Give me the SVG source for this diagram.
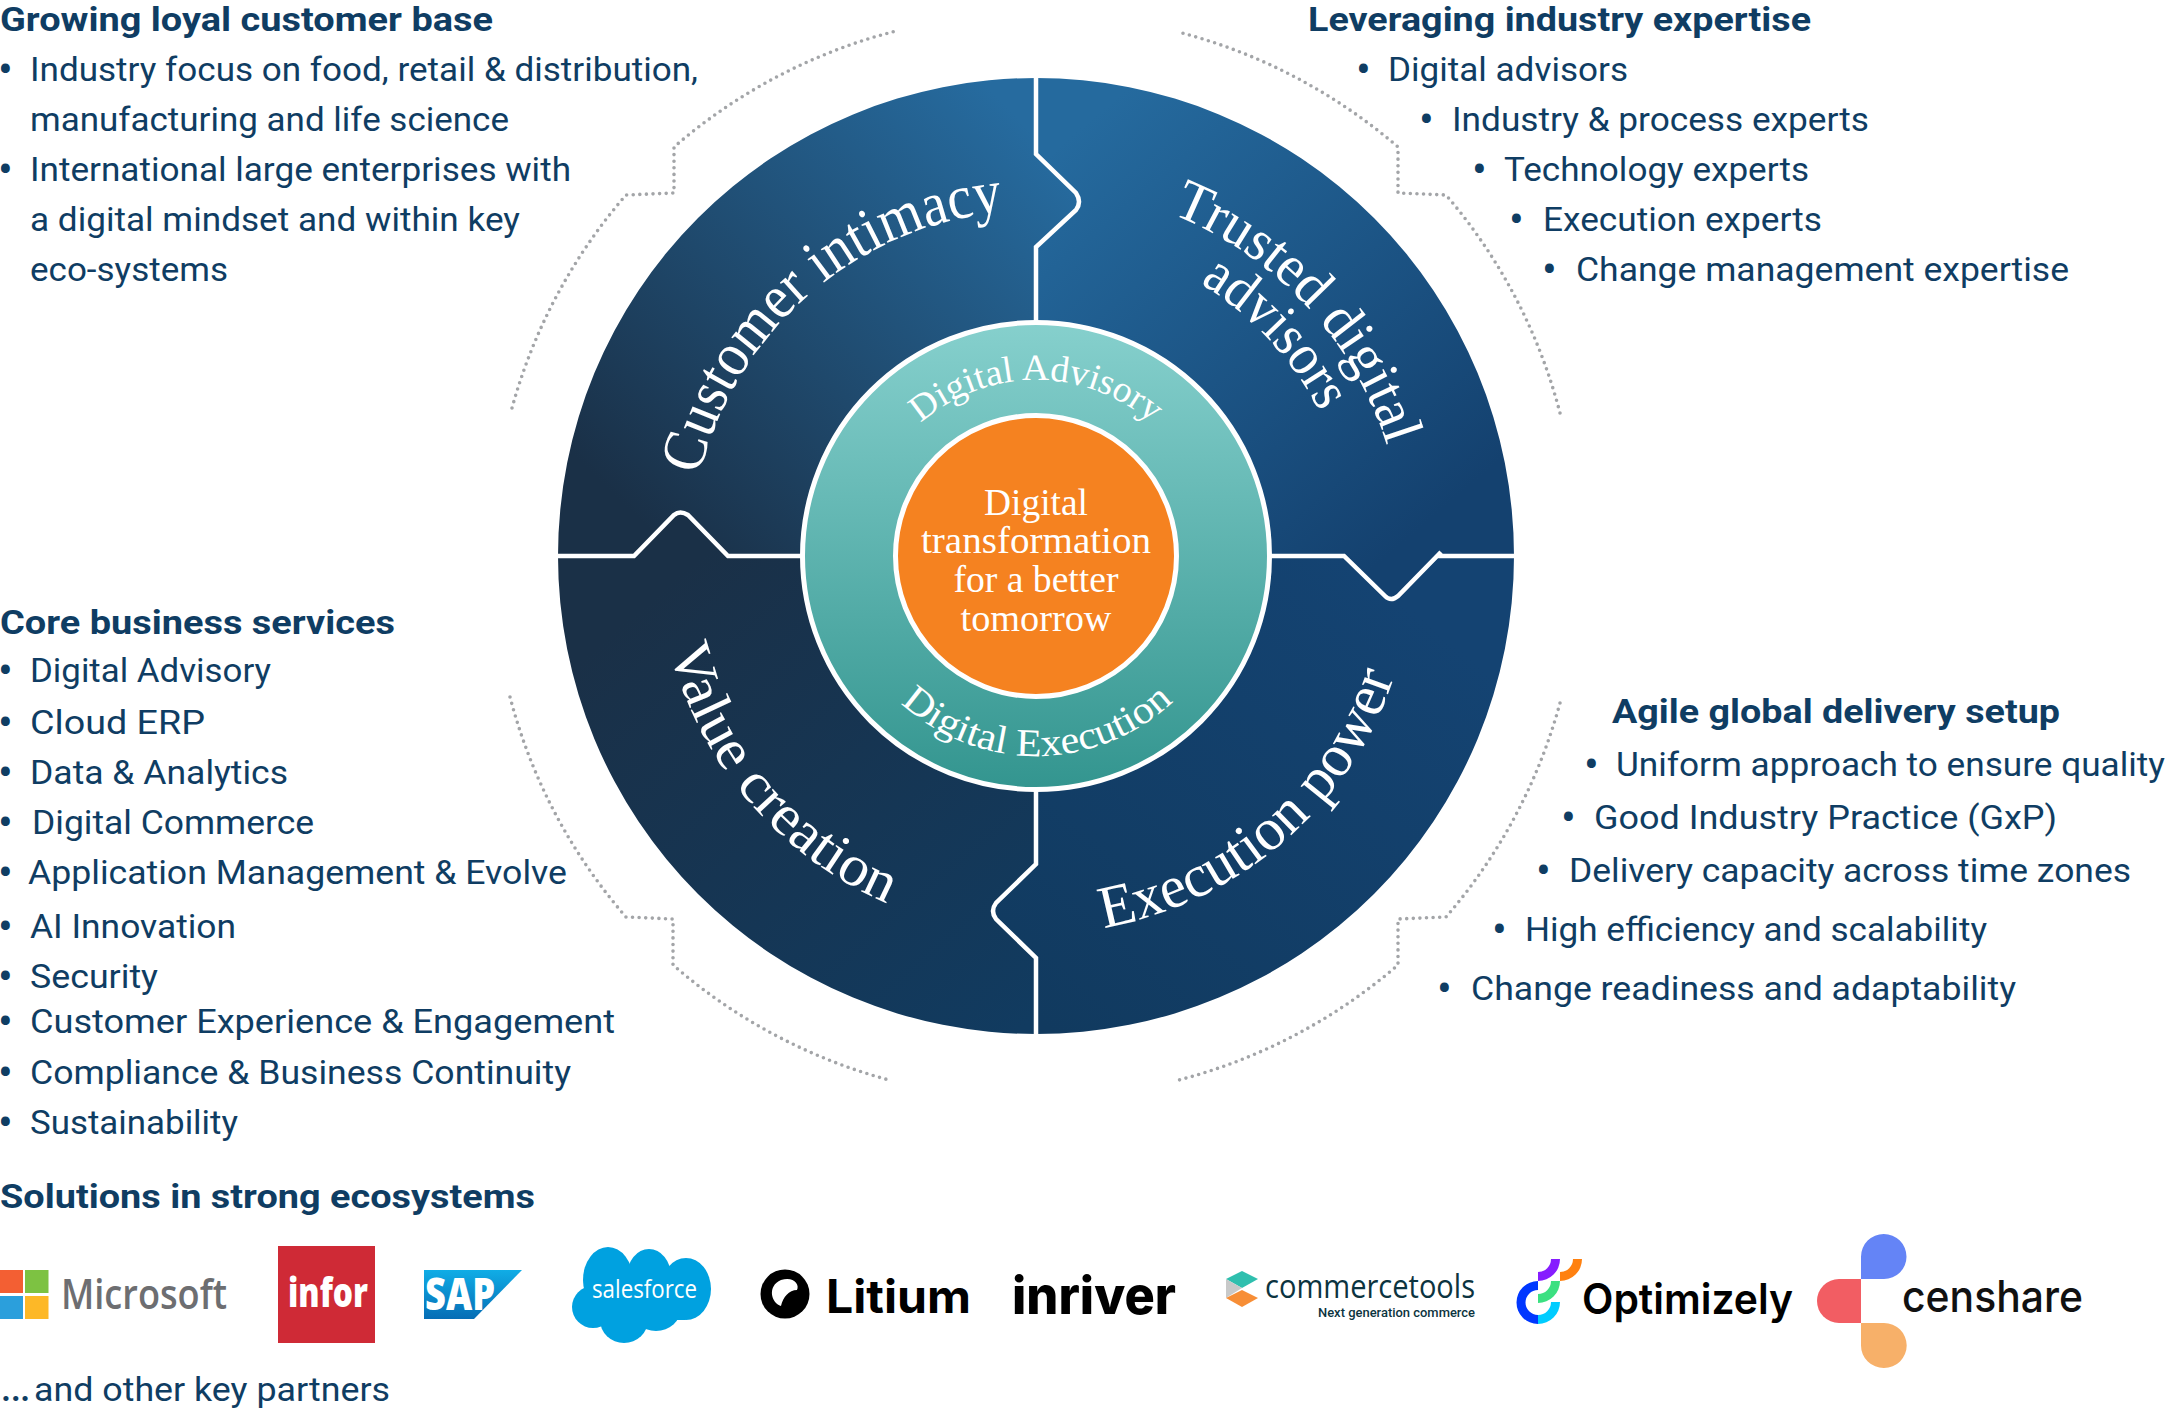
<svg xmlns="http://www.w3.org/2000/svg" width="2168" height="1422" viewBox="0 0 2168 1422">
  <style>
    text { font-family: Roboto, "Liberation Sans", sans-serif; }
    .body { font-size: 34px; fill: #0f3d63; }
    .head { font-size: 34px; font-weight: 700; fill: #0f3d63; }
    .dot { font-size: 44px; fill: #0f3d63; }
    .serif { font-family: "Liberation Serif", "DejaVu Serif", serif; fill: #fff; }
    .core { font-size: 38px; text-anchor: middle; }
    .seam { fill: none; stroke: #fff; stroke-width: 4.5; }
    .dots { fill: none; stroke: #a3a5a8; stroke-width: 3.6; stroke-linecap: round; stroke-dasharray: 0 6.6; }
    .ring { stroke: #fff; stroke-width: 5; }
  </style>
  <defs>
    <linearGradient id="gTL" gradientUnits="userSpaceOnUse" x1="640" y1="520" x2="1030" y2="130"><stop offset="0" stop-color="#1a3047"/><stop offset="1" stop-color="#266b9f"/></linearGradient>
    <linearGradient id="gTR" gradientUnits="userSpaceOnUse" x1="1090" y1="120" x2="1430" y2="520"><stop offset="0" stop-color="#256a9e"/><stop offset="1" stop-color="#14416f"/></linearGradient>
    <linearGradient id="gBL" gradientUnits="userSpaceOnUse" x1="650" y1="600" x2="1020" y2="1030"><stop offset="0" stop-color="#1a3047"/><stop offset="1" stop-color="#113b60"/></linearGradient>
    <linearGradient id="gBR" gradientUnits="userSpaceOnUse" x1="1400" y1="600" x2="1050" y2="1030"><stop offset="0" stop-color="#144372"/><stop offset="1" stop-color="#113a5f"/></linearGradient>
    <linearGradient id="gRing" x1="0" y1="0" x2="0" y2="1"><stop offset="0" stop-color="#86d0cd"/><stop offset="1" stop-color="#33958f"/></linearGradient>
    <linearGradient id="gSap" x1="0" y1="0" x2="0" y2="1"><stop offset="0" stop-color="#10ade6"/><stop offset="1" stop-color="#066db5"/></linearGradient>
    <path id="arcCustomer" d="M699.6,475.3 A346 346 0 0 1 1002.8,211.6"/>
    <path id="arcTrusted" d="M1171.5,213.8 A368 368 0 0 1 1386.4,443.5"/>
    <path id="arcAdvisors" d="M1199.8,283.5 A318 318 0 0 1 1319.3,411.6"/>
    <path id="arcValue" d="M669.6,648.7 A378 378 0 0 0 887.1,903.4"/>
    <path id="arcExecution" d="M1103.6,928 A378 378 0 0 0 1394.3,676.6"/>
    <path id="arcAdvisory" d="M920.5,423.2 A176 176 0 0 1 1151.5,423.2"/>
    <path id="arcDelivery" d="M900.6,703.2 A200 200 0 0 0 1173.7,701.1"/>
  </defs>

  <rect width="2168" height="1422" fill="#fff"/>

  <!-- Four interlocking quadrants of the outer wheel -->
  <g id="customer-intimacy">
    <path fill="url(#gTL)" d="M1036,78 A478 478 0 0 0 558,556 H634 L674,515 Q680,510 688,515 L728,556 H1036 V247 L1076,210 Q1082,202 1076,193 L1036,154 Z"/>
    <text class="serif" font-size="62"><textPath href="#arcCustomer" textLength="429" lengthAdjust="spacingAndGlyphs">Customer intimacy</textPath></text>
  </g>
  <g id="trusted-digital-advisors">
    <path fill="url(#gTR)" d="M1036,78 V154 L1076,193 Q1082,202 1076,210 L1036,247 V556 H1344 L1385,596 Q1391,602 1398,596 L1440,556 H1514 A478 478 0 0 0 1036,78 Z"/>
    <text class="serif" font-size="58"><textPath href="#arcTrusted" textLength="327" lengthAdjust="spacingAndGlyphs">Trusted digital</textPath></text>
    <text class="serif" font-size="58"><textPath href="#arcAdvisors" textLength="178" lengthAdjust="spacingAndGlyphs">advisors</textPath></text>
  </g>
  <g id="value-creation">
    <path fill="url(#gBL)" d="M1036,1034 V958 L996,919 Q990,911 996,903 L1036,864 V556 H728 L688,515 Q680,510 674,515 L634,556 H558 A478 478 0 0 0 1036,1034 Z"/>
    <text class="serif" font-size="58"><textPath href="#arcValue" textLength="347" lengthAdjust="spacingAndGlyphs">Value creation</textPath></text>
  </g>
  <g id="execution-power">
    <path fill="url(#gBR)" d="M1514,556 H1440 L1398,596 Q1391,602 1385,596 L1344,556 H1036 V864 L996,903 Q990,911 996,919 L1036,958 V1034 A478 478 0 0 0 1514,556 Z"/>
    <text class="serif" font-size="60"><textPath href="#arcExecution" textLength="403" lengthAdjust="spacingAndGlyphs">Execution power</textPath></text>
  </g>

  <!-- Seams between quadrants and dotted brackets around the wheel -->
  <g id="connectors">
    <path class="seam" d="M1036,76 V154 L1076,193 Q1082,202 1076,210 L1036,247 V322"/>
    <path class="seam" d="M556,556 H634 L674,515 Q680,510 688,515 L728,556 H802"/>
    <path class="seam" d="M1271,556 H1344 L1385,596 Q1391,602 1398,596 L1441,552 M1438,556 H1516"/>
    <path class="seam" d="M1036,791 V864 L996,903 Q990,911 996,919 L1036,958 V1036"/>
    <path class="dots" d="M512,408 A546 546 0 0 1 626,195 L674,193 L674,147 A546 546 0 0 1 896,31"/>
    <path class="dots" d="M1560,413 A546 546 0 0 0 1446,195 L1398,193 L1398,147 A546 546 0 0 0 1182,33"/>
    <path class="dots" d="M510,697 A546 546 0 0 0 626,917 L673,919 L673,965 A546 546 0 0 0 889,1080"/>
    <path class="dots" d="M1560,703 A546 546 0 0 1 1446,917 L1398,919 L1398,965 A546 546 0 0 1 1175,1081"/>
  </g>

  <g id="delivery-ring">
    <circle class="ring" cx="1036" cy="556" r="233.5" fill="url(#gRing)"/>
    <text class="serif" font-size="37"><textPath href="#arcAdvisory" textLength="252" lengthAdjust="spacingAndGlyphs">Digital Advisory</textPath></text>
    <text class="serif" font-size="39"><textPath href="#arcDelivery" textLength="300" lengthAdjust="spacingAndGlyphs">Digital Execution</textPath></text>
  </g>

  <g id="core">
    <circle class="ring" cx="1036" cy="556" r="140.5" fill="#f58220"/>
    <text class="serif core" x="1036" y="515" textLength="104" lengthAdjust="spacingAndGlyphs">Digital</text>
    <text class="serif core" x="1036" y="553" textLength="230" lengthAdjust="spacingAndGlyphs">transformation</text>
    <text class="serif core" x="1036" y="592" textLength="165" lengthAdjust="spacingAndGlyphs">for a better</text>
    <text class="serif core" x="1036" y="631" textLength="151" lengthAdjust="spacingAndGlyphs">tomorrow</text>
  </g>

  <!-- Text blocks -->
  <g id="customer-base">
    <text class="head" x="0" y="31" textLength="493" lengthAdjust="spacingAndGlyphs">Growing loyal customer base</text>
    <text class="dot" x="-2" y="85">•</text>
    <text class="body" x="30" y="81" textLength="668" lengthAdjust="spacingAndGlyphs">Industry focus on food, retail &amp; distribution,</text>
    <text class="body" x="30" y="131" textLength="479" lengthAdjust="spacingAndGlyphs">manufacturing and life science</text>
    <text class="dot" x="-2" y="185">•</text>
    <text class="body" x="30" y="181" textLength="541" lengthAdjust="spacingAndGlyphs">International large enterprises with</text>
    <text class="body" x="30" y="231" textLength="490" lengthAdjust="spacingAndGlyphs">a digital mindset and within key</text>
    <text class="body" x="30" y="281" textLength="198" lengthAdjust="spacingAndGlyphs">eco-systems</text>
  </g>

  <g id="industry-expertise">
    <text class="head" x="1308" y="31" textLength="503" lengthAdjust="spacingAndGlyphs">Leveraging industry expertise</text>
    <text class="dot" x="1356" y="85">•</text>
    <text class="body" x="1388" y="81" textLength="240" lengthAdjust="spacingAndGlyphs">Digital advisors</text>
    <text class="dot" x="1419" y="135">•</text>
    <text class="body" x="1452" y="131" textLength="417" lengthAdjust="spacingAndGlyphs">Industry &amp; process experts</text>
    <text class="dot" x="1472" y="185">•</text>
    <text class="body" x="1504" y="181" textLength="305" lengthAdjust="spacingAndGlyphs">Technology experts</text>
    <text class="dot" x="1509" y="235">•</text>
    <text class="body" x="1543" y="231" textLength="279" lengthAdjust="spacingAndGlyphs">Execution experts</text>
    <text class="dot" x="1542" y="285">•</text>
    <text class="body" x="1576" y="281" textLength="493" lengthAdjust="spacingAndGlyphs">Change management expertise</text>
  </g>

  <g id="core-services">
    <text class="head" x="0" y="634" textLength="395" lengthAdjust="spacingAndGlyphs">Core business services</text>
    <text class="dot" x="-2" y="686">•</text>
    <text class="body" x="30" y="682" textLength="241" lengthAdjust="spacingAndGlyphs">Digital Advisory</text>
    <text class="dot" x="-2" y="738">•</text>
    <text class="body" x="30" y="734" textLength="175" lengthAdjust="spacingAndGlyphs">Cloud ERP</text>
    <text class="dot" x="-2" y="788">•</text>
    <text class="body" x="30" y="784" textLength="258" lengthAdjust="spacingAndGlyphs">Data &amp; Analytics</text>
    <text class="dot" x="-2" y="838">•</text>
    <text class="body" x="32" y="834" textLength="282" lengthAdjust="spacingAndGlyphs">Digital Commerce</text>
    <text class="dot" x="-2" y="888">•</text>
    <text class="body" x="28" y="884" textLength="539" lengthAdjust="spacingAndGlyphs">Application Management &amp; Evolve</text>
    <text class="dot" x="-2" y="942">•</text>
    <text class="body" x="30" y="938" textLength="206" lengthAdjust="spacingAndGlyphs">AI Innovation</text>
    <text class="dot" x="-2" y="992">•</text>
    <text class="body" x="30" y="988" textLength="128" lengthAdjust="spacingAndGlyphs">Security</text>
    <text class="dot" x="-2" y="1037">•</text>
    <text class="body" x="30" y="1033" textLength="585" lengthAdjust="spacingAndGlyphs">Customer Experience &amp; Engagement</text>
    <text class="dot" x="-2" y="1088">•</text>
    <text class="body" x="30" y="1084" textLength="541" lengthAdjust="spacingAndGlyphs">Compliance &amp; Business Continuity</text>
    <text class="dot" x="-2" y="1138">•</text>
    <text class="body" x="30" y="1134" textLength="208" lengthAdjust="spacingAndGlyphs">Sustainability</text>
  </g>

  <g id="delivery-setup">
    <text class="head" x="1612" y="723" textLength="448" lengthAdjust="spacingAndGlyphs">Agile global delivery setup</text>
    <text class="dot" x="1584" y="780">•</text>
    <text class="body" x="1616" y="776" textLength="549" lengthAdjust="spacingAndGlyphs">Uniform approach to ensure quality</text>
    <text class="dot" x="1561" y="833">•</text>
    <text class="body" x="1594" y="829" textLength="463" lengthAdjust="spacingAndGlyphs">Good Industry Practice (GxP)</text>
    <text class="dot" x="1536" y="886">•</text>
    <text class="body" x="1569" y="882" textLength="562" lengthAdjust="spacingAndGlyphs">Delivery capacity across time zones</text>
    <text class="dot" x="1492" y="945">•</text>
    <text class="body" x="1525" y="941" textLength="462" lengthAdjust="spacingAndGlyphs">High efficiency and scalability</text>
    <text class="dot" x="1437" y="1004">•</text>
    <text class="body" x="1471" y="1000" textLength="545" lengthAdjust="spacingAndGlyphs">Change readiness and adaptability</text>
  </g>

  <g id="ecosystem-title">
    <text class="head" x="0" y="1208" textLength="535" lengthAdjust="spacingAndGlyphs">Solutions in strong ecosystems</text>
    <text class="body" y="1401"><tspan x="0" font-size="46">…</tspan><tspan x="34" textLength="356" lengthAdjust="spacingAndGlyphs">and other key partners</tspan></text>
  </g>

  <!-- Partner marks -->
  <g id="logo-microsoft">
    <rect x="0" y="1270" width="23" height="23" fill="#f35f33"/>
    <rect x="25" y="1270" width="23.5" height="23" fill="#7dc242"/>
    <rect x="0" y="1296" width="23" height="23" fill="#2b9fdc"/>
    <rect x="25" y="1296" width="23.5" height="23" fill="#fdb827"/>
    <text x="61" y="1309" font-size="41" font-weight="600" style="font-family:'Open Sans',sans-serif" fill="#6d6e71" textLength="166" lengthAdjust="spacingAndGlyphs">Microsoft</text>
  </g>
  <g id="logo-infor">
    <rect x="278" y="1246" width="97" height="97" fill="#cf2a36"/>
    <text x="288" y="1307" font-size="41" font-weight="800" style="font-family:'Open Sans',sans-serif" fill="#fff" textLength="80" lengthAdjust="spacingAndGlyphs">infor</text>
  </g>
  <g id="logo-sap">
    <polygon points="424,1270 522,1270 474,1319 424,1319" fill="url(#gSap)"/>
    <text x="425" y="1310" font-size="45" font-weight="800" style="font-family:'Open Sans',sans-serif" fill="#fff" textLength="70" lengthAdjust="spacingAndGlyphs">SAP</text>
  </g>
  <g id="logo-salesforce" fill="#00a1e0">
    <ellipse cx="608" cy="1280" rx="25" ry="33"/>
    <ellipse cx="649" cy="1276" rx="22" ry="27"/>
    <ellipse cx="686" cy="1289" rx="25" ry="31"/>
    <ellipse cx="656" cy="1308" rx="25" ry="23"/>
    <ellipse cx="624" cy="1320" rx="24" ry="23"/>
    <ellipse cx="593" cy="1307" rx="21" ry="21"/>
    <rect x="595" y="1270" width="90" height="50"/>
    <text x="592" y="1298" font-size="26" font-weight="500" style="font-family:'Open Sans',sans-serif" fill="#fff" textLength="105" lengthAdjust="spacingAndGlyphs">salesforce</text>
  </g>
  <g id="logo-litium">
    <ellipse cx="785" cy="1294" rx="24.5" ry="24.5" fill="#000"/>
    <path d="M781,1280 C793,1276 800,1284 797,1290 C789,1290 783,1297 781,1306 C771,1303 767,1286 781,1280 Z" fill="#fff"/>
    <text x="826" y="1313" font-size="46" font-weight="700" style="font-family:Inter,sans-serif" fill="#000" textLength="145" lengthAdjust="spacingAndGlyphs">Litium</text>
  </g>
  <g id="logo-inriver">
    <text x="1012" y="1314" font-size="52" font-weight="800" style="font-family:Inter,sans-serif" fill="#000" textLength="164" lengthAdjust="spacingAndGlyphs">inriver</text>
  </g>
  <g id="logo-commercetools">
    <polygon points="1226,1279 1242,1271 1258,1279 1242,1288" fill="#2fbfae"/>
    <polygon points="1226,1279 1242,1288 1226,1298" fill="#c8c9c9"/>
    <polygon points="1226,1298 1242,1290 1258,1298 1242,1307" fill="#f78e36"/>
    <text x="1265" y="1298" font-size="32" style="font-family:'Open Sans',sans-serif" fill="#0c3440" textLength="210" lengthAdjust="spacingAndGlyphs">commercetools</text>
    <text x="1318" y="1317" font-size="12.5" font-weight="500" fill="#0c3440" textLength="157" lengthAdjust="spacingAndGlyphs">Next generation commerce</text>
  </g>
  <g id="logo-optimizely">
    <path d="M1538,1281 A21.5 21.5 0 0 0 1538,1324 V1315 A12.5 12.5 0 0 1 1538,1290 Z" fill="#0037ff"/>
    <path d="M1538,1324 A22 22 0 0 0 1560,1302 H1551 A13 13 0 0 1 1538,1315 Z" fill="#00ccff"/>
    <path d="M1538,1303 A22 22 0 0 0 1560,1281 H1551 A13 13 0 0 1 1538,1294 Z" fill="#3be081"/>
    <path d="M1538,1281 A22 22 0 0 0 1560,1259 H1551 A13 13 0 0 1 1538,1272 Z" fill="#861dff"/>
    <path d="M1560,1281 A22 22 0 0 0 1582,1259 H1573 A13 13 0 0 1 1560,1272 Z" fill="#ff8110"/>
    <text x="1582" y="1314" font-size="42" font-weight="600" style="font-family:Inter,sans-serif" fill="#000" textLength="211" lengthAdjust="spacingAndGlyphs">Optimizely</text>
  </g>
  <g id="logo-censhare">
    <path d="M1861,1279 V1256.7 A22.7 22.7 0 0 1 1906.5,1256.7 A22.7 22.3 0 0 1 1884,1279 Z" fill="#6484f6"/>
    <path d="M1861,1279 H1839 A22 22 0 0 0 1839,1323 H1861 Z" fill="#f25d63"/>
    <path d="M1861,1323 H1884 A22.7 22.5 0 0 1 1884,1368 A22.7 22.5 0 0 1 1861,1345.5 Z" fill="#f7b069"/>
    <text x="1902" y="1312" font-size="44" font-weight="500" style="font-family:Inter,sans-serif" fill="#111" textLength="181" lengthAdjust="spacingAndGlyphs">censhare</text>
  </g>
</svg>
